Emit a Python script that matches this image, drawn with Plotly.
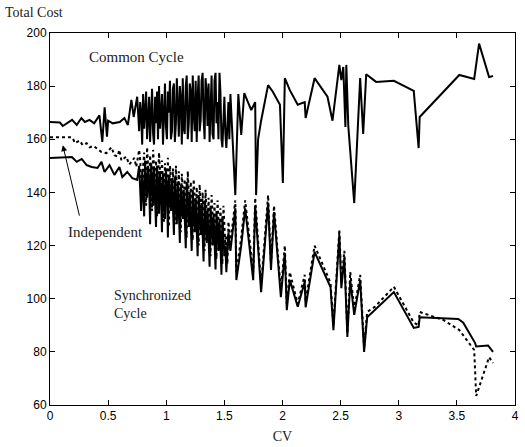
import plotly.graph_objects as go

# ---------------- Common Cycle (upper solid line) ----------------
common_cv_a = [0.0, 0.085, 0.11, 0.19, 0.23, 0.27, 0.30, 0.34, 0.38, 0.425, 0.45,
               0.47, 0.49, 0.50, 0.54, 0.60, 0.64, 0.67, 0.70, 0.72, 0.75]
common_val_a = [166.5, 166.3, 165.0, 167.3, 165.4, 168.0, 166.5, 167.3, 166.0, 169.0, 159.0,
                172.0, 161.0, 167.0, 166.0, 166.5, 168.0, 165.4, 174.8, 168.4, 176.0]
common_cv_b = [0.767, 0.776, 0.784, 0.793, 0.801, 0.810, 0.818, 0.827, 0.835, 0.844,
               0.853, 0.861, 0.870, 0.878, 0.887, 0.895, 0.904, 0.912, 0.921, 0.929,
               0.938, 0.946, 0.955, 0.963, 0.972, 0.980, 0.989, 0.997, 1.006, 1.014,
               1.023, 1.032, 1.040, 1.049, 1.057, 1.066, 1.074, 1.083, 1.091, 1.100,
               1.108, 1.117, 1.125, 1.134, 1.142, 1.151, 1.159, 1.168, 1.176, 1.185,
               1.194, 1.202, 1.211, 1.219, 1.228, 1.236, 1.245, 1.253, 1.262, 1.270,
               1.279, 1.287, 1.296, 1.304, 1.313, 1.321, 1.330, 1.338, 1.347, 1.355,
               1.364, 1.373, 1.381, 1.390, 1.398, 1.407, 1.415, 1.424, 1.432, 1.441,
               1.449, 1.458, 1.466, 1.475, 1.483, 1.492, 1.500, 1.509, 1.517, 1.526,
               1.535, 1.543, 1.552]
common_val_b = [163, 174, 170, 158, 177, 164, 172, 178, 160, 168,
                176, 159, 175, 179, 162, 158, 176, 166, 178, 160,
                180, 164, 170, 177, 158, 174, 181, 165, 160, 178,
                170, 182, 160, 163, 179, 181, 159, 166, 183, 172,
                161, 180, 175, 158, 183, 164, 162, 180, 184, 160,
                166, 181, 178, 159, 184, 170, 163, 182, 159, 176,
                184, 163, 167, 182, 185, 168, 160, 183, 178, 165,
                181, 159, 170, 184, 162, 160, 182, 185, 166, 174,
                160, 185, 178, 160, 157, 170, 176, 162, 156.7, 165,
                174, 160, 177]
common_cv_c = [1.594, 1.620, 1.645, 1.671, 1.731, 1.765, 1.773, 1.790, 1.816, 1.876,
               1.918, 1.978, 2.003, 2.020, 2.063, 2.131, 2.191, 2.199, 2.276, 2.387,
               2.430, 2.489, 2.506, 2.523, 2.541, 2.549, 2.566, 2.617, 2.668, 2.694,
               2.720, 2.805, 2.958, 3.129, 3.171, 3.180, 3.521, 3.649, 3.691, 3.777, 3.811]
common_val_c = [139, 177, 161.6, 177.4, 171, 174, 139, 160, 167, 180.4,
                177.8, 173, 143.6, 183, 178.5, 173, 174, 168, 183, 176,
                167, 188, 182.3, 187.2, 164.6, 188, 165, 136, 183, 162,
                184.5, 181.6, 182, 178.2, 156.7, 168.4, 184.2, 182.7, 196, 183.4, 183.8]

# ---------------- Synchronized Cycle (lower solid line) ----------------
sync_cv_a = [0.0, 0.188, 0.230, 0.273, 0.315, 0.358, 0.409, 0.443, 0.469, 0.512,
             0.554, 0.597, 0.622, 0.665, 0.708, 0.750]
sync_val_a = [153.0, 153.3, 151.5, 152.6, 150.3, 149.6, 149.2, 151.5, 147.7, 150.3,
              146.6, 149.6, 145.8, 147.7, 145.4, 144.7]
sync_cv_b = [0.767, 0.776, 0.784, 0.793, 0.801, 0.810, 0.818, 0.827, 0.835, 0.844,
             0.853, 0.861, 0.870, 0.878, 0.887, 0.895, 0.904, 0.912, 0.921, 0.929,
             0.938, 0.946, 0.955, 0.963, 0.972, 0.980, 0.989, 0.997, 1.006, 1.014,
             1.023, 1.032, 1.040, 1.049, 1.057, 1.066, 1.074, 1.083, 1.091, 1.100,
             1.108, 1.117, 1.125, 1.134, 1.142, 1.151, 1.159, 1.168, 1.176, 1.185,
             1.194, 1.202, 1.211, 1.219, 1.228, 1.236, 1.245, 1.253, 1.262, 1.270,
             1.279, 1.287, 1.296, 1.304, 1.313, 1.321, 1.330, 1.338, 1.347, 1.355,
             1.364, 1.373, 1.381, 1.390, 1.398, 1.407, 1.415, 1.424, 1.432, 1.441,
             1.449, 1.458, 1.466, 1.475, 1.483, 1.492, 1.500, 1.509, 1.517, 1.526,
             1.535, 1.543, 1.552]
sync_val_b = [150, 141, 133, 148, 136, 131, 152, 145, 138, 150,
              142, 128, 151, 146, 135, 149, 139, 127, 150, 144,
              132, 148, 140, 125, 147, 138, 130, 149, 142, 123,
              146, 139, 133, 145, 131, 124, 146, 137, 128, 144,
              135, 121, 143, 136, 130, 141, 127, 119, 144, 133,
              127, 140, 131, 118, 141, 134, 125, 138, 129, 116,
              139, 131, 124, 136, 127, 114, 137, 129, 121, 134,
              125, 112, 135, 127, 120, 132, 123, 111, 133, 126,
              118, 130, 122, 109, 131, 124, 116, 120, 110, 118,
              125, 121, 118]
sync_cv_c = [1.594, 1.603, 1.645, 1.679, 1.748, 1.765, 1.816, 1.876, 1.901, 1.927,
             1.986, 2.020, 2.037, 2.063, 2.131, 2.191, 2.199, 2.276, 2.413, 2.438,
             2.489, 2.506, 2.532, 2.558, 2.583, 2.617, 2.668, 2.702, 2.728, 2.796,
             2.958, 3.129, 3.171, 3.180, 3.512, 3.555, 3.657, 3.666, 3.768, 3.811]
sync_val_c = [134, 107, 120, 134, 107, 135, 102.5, 136, 110.8, 132.6,
              100.6, 117.2, 95.7, 107, 97, 106.3, 96.8, 117.6, 104.4, 88.2,
              124, 104, 115.3, 85.6, 107, 93.9, 107, 80, 93, 95.7,
              102.5, 89, 89.4, 93, 92.4, 91, 83.3, 82, 82.4, 80]

# ---------------- Independent (dotted line) ----------------
indep_cv_a = [0.0, 0.043, 0.085, 0.128, 0.171, 0.196, 0.213, 0.256, 0.281, 0.315,
              0.341, 0.375, 0.401, 0.443, 0.486, 0.529, 0.554, 0.580, 0.597, 0.614,
              0.656, 0.682, 0.699, 0.725, 0.742, 0.767]
indep_val_a = [160.8, 160.8, 160.8, 160.6, 160.8, 160.5, 158.6, 159.5, 157.8, 158.5,
               157.0, 157.5, 156.5, 155.2, 154.8, 157.0, 154.0, 153.5, 156.0, 152.0,
               153.5, 150.5, 151.4, 153.0, 149.6, 156.0]
indep_cv_b = [0.776, 0.784, 0.793, 0.801, 0.810, 0.818, 0.827, 0.835, 0.844,
              0.853, 0.861, 0.870, 0.878, 0.887, 0.895, 0.904, 0.912, 0.921, 0.929,
              0.938, 0.946, 0.955, 0.963, 0.972, 0.980, 0.989, 0.997, 1.006, 1.014,
              1.023, 1.032, 1.040, 1.049, 1.057, 1.066, 1.074, 1.083, 1.091, 1.100,
              1.108, 1.117, 1.125, 1.134, 1.142, 1.151, 1.159, 1.168, 1.176, 1.185,
              1.194, 1.202, 1.211, 1.219, 1.228, 1.236, 1.245, 1.253, 1.262, 1.270,
              1.279, 1.287, 1.296, 1.304, 1.313, 1.321, 1.330, 1.338, 1.347, 1.355,
              1.364, 1.373, 1.381, 1.390, 1.398, 1.407, 1.415, 1.424, 1.432, 1.441,
              1.449, 1.458, 1.466, 1.475, 1.483, 1.492, 1.500, 1.509, 1.517, 1.526,
              1.535, 1.543, 1.552]
indep_val_b = [152, 146, 137, 150, 155, 140, 135, 157, 149, 142,
               154, 147, 133, 156, 150, 140, 152, 131, 145, 155,
               148, 137, 152, 144, 129, 151, 143, 135, 153, 127,
               150, 142, 137, 149, 135, 128, 150, 141, 132, 148,
               138, 125, 147, 140, 134, 145, 131, 123, 148, 137,
               131, 144, 135, 122, 145, 138, 129, 142, 133, 120,
               143, 135, 128, 140, 131, 118, 141, 133, 125, 138,
               129, 116, 139, 131, 124, 136, 127, 115, 137, 130,
               122, 134, 126, 113, 135, 128, 120, 124, 113, 129,
               125, 121]
indep_cv_c = [1.594, 1.603, 1.645, 1.679, 1.748, 1.765, 1.816, 1.876, 1.901, 1.927,
              1.986, 2.020, 2.037, 2.063, 2.131, 2.191, 2.199, 2.276, 2.413, 2.438,
              2.489, 2.506, 2.532, 2.558, 2.583, 2.617, 2.668, 2.702, 2.728, 2.796,
              2.958, 3.129, 3.171, 3.180, 3.384, 3.521, 3.649, 3.666, 3.777, 3.811]
indep_val_c = [137, 110, 123, 137, 110, 138, 105, 139, 113, 135,
               103, 120, 98, 110, 98, 109, 99, 120, 106, 90,
               126, 106, 118, 87, 110, 96, 109, 82, 95, 97,
               104.5, 91, 90, 95, 92, 88.2, 80.7, 63.4, 78, 75.8]

x_ticks = [0, 0.5, 1, 1.5, 2, 2.5, 3, 3.5, 4]
x_ticklabels = ["0", "0.5", "1", "1.5", "2", "2.5", "3", "3.5", "4"]
y_ticks = [60, 80, 100, 120, 140, 160, 180, 200]

for a, b in [(common_cv_a, common_val_a), (common_cv_b, common_val_b), (common_cv_c, common_val_c),
             (sync_cv_a, sync_val_a), (sync_cv_b, sync_val_b), (sync_cv_c, sync_val_c),
             (indep_cv_a, indep_val_a), (indep_cv_b, indep_val_b), (indep_cv_c, indep_val_c)]:
    assert len(a) == len(b), (len(a), len(b))

common_cv = common_cv_a + common_cv_b + common_cv_c
common_val = common_val_a + common_val_b + common_val_c
sync_cv = sync_cv_a + sync_cv_b + sync_cv_c
sync_val = sync_val_a + sync_val_b + sync_val_c
indep_cv = indep_cv_a + indep_cv_b + indep_cv_c
indep_val = indep_val_a + indep_val_b + indep_val_c

serif = "Liberation Serif, Times New Roman, serif"
sans = "Liberation Sans, Arial, sans-serif"

fig = go.Figure()
fig.add_trace(go.Scatter(x=common_cv, y=common_val, mode="lines",
                         line=dict(color="black", width=2)))
fig.add_trace(go.Scatter(x=indep_cv, y=indep_val, mode="lines",
                         line=dict(color="black", width=2, dash="dot")))
fig.add_trace(go.Scatter(x=sync_cv, y=sync_val, mode="lines",
                         line=dict(color="black", width=2)))

anno_font = dict(family=serif, size=15, color="#222")
fig.add_annotation(x=0.742, y=191, xref="x", yref="y", text="Common Cycle",
                   showarrow=False, font=anno_font)
fig.add_annotation(x=0.48, y=125, xref="x", yref="y", text="Independent",
                   showarrow=False, font=anno_font)
fig.add_annotation(x=0.53, y=97.8, xref="x", yref="y", text="Synchronized<br>Cycle",
                   showarrow=False, font=dict(family=serif, size=14, color="#222"),
                   align="left", xanchor="left")
fig.add_annotation(x=0.11, y=157.8, xref="x", yref="y", ax=0.256, ay=130.7,
                   axref="x", ayref="y", text="", showarrow=True,
                   arrowhead=2, arrowsize=1.2, arrowwidth=1, arrowcolor="black")
fig.add_annotation(x=-0.102, y=1.055, xref="paper", yref="paper", text="Total Cost",
                   showarrow=False, xanchor="left", yanchor="middle",
                   font=dict(family=serif, size=14, color="#222"))

fig.update_xaxes(range=[0, 4], tickvals=x_ticks, ticktext=x_ticklabels,
                 ticks="inside", ticklen=5, tickcolor="black", mirror="ticks",
                 showline=True, linecolor="black", linewidth=1, showgrid=False, zeroline=False,
                 tickfont=dict(family=sans, size=12, color="black"),
                 title=dict(text="CV", font=dict(family=serif, size=14, color="#222"), standoff=8))
fig.update_yaxes(range=[60, 200], tickvals=y_ticks,
                 ticks="inside", ticklen=5, tickcolor="black", mirror="ticks",
                 showline=True, linecolor="black", linewidth=1, showgrid=False, zeroline=False,
                 tickfont=dict(family=sans, size=12, color="black"))

fig.update_layout(width=525, height=447, showlegend=False,
                  plot_bgcolor="white", paper_bgcolor="white",
                  margin=dict(l=50, r=6, t=33, b=42))

fig.write_html("out.html")
